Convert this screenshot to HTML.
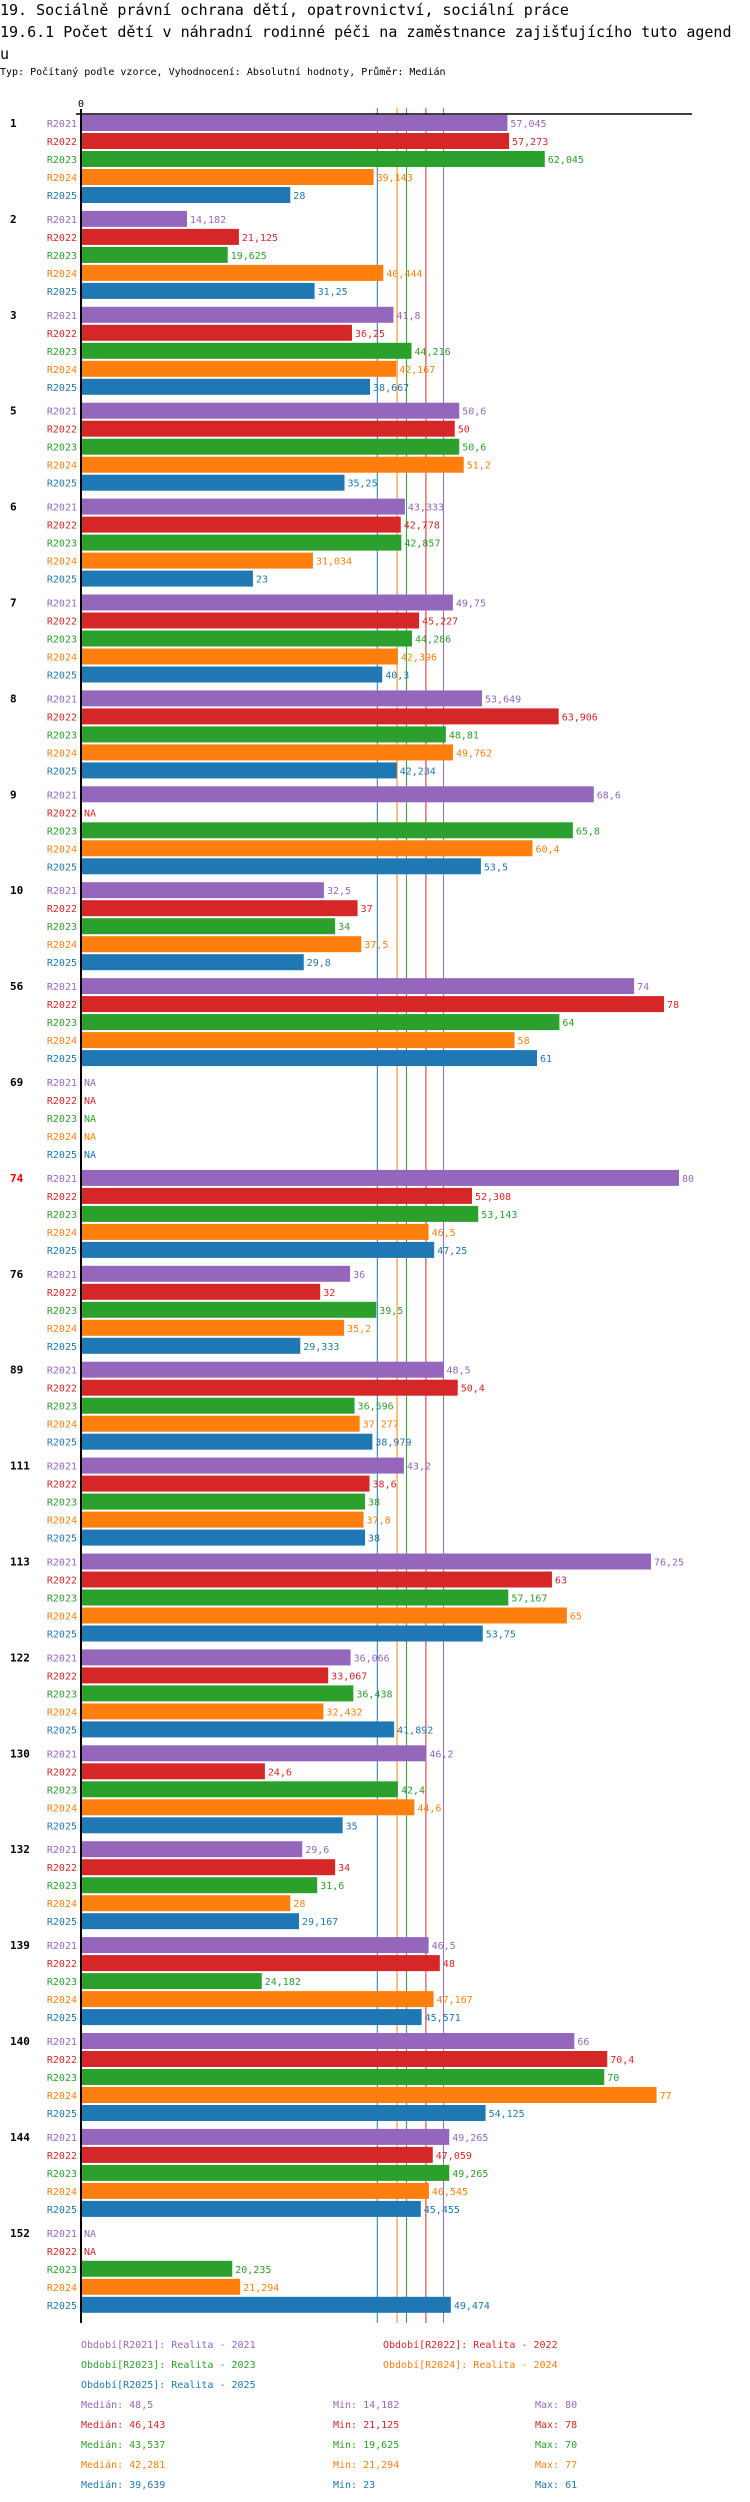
<!DOCTYPE html>
<html><head><meta charset="utf-8"><style>
body{margin:0;background:#fff;width:750px;height:2502px;overflow:hidden}
.t{position:absolute;left:0;font-family:"DejaVu Sans Mono","Liberation Mono",monospace;white-space:nowrap;color:#000}
svg text{font-family:"DejaVu Sans Mono","Liberation Mono",monospace}
</style></head><body>
<div class="t" style="top:-1px;font-size:15px;line-height:22px">19. Sociálně právní ochrana dětí, opatrovnictví, sociální práce</div>
<div class="t" style="top:21px;font-size:15px;line-height:22px">19.6.1 Počet dětí v náhradní rodinné péči na zaměstnance zajišťujícího tuto agend<br>u</div>
<div class="t" style="top:66px;font-size:10px;line-height:14px">Typ: Počítaný podle vzorce, Vyhodnocení: Absolutní hodnoty, Průměr: Medián</div>
<svg id="c" width="750" height="2502" style="position:absolute;left:0;top:0"></svg>
<script>
const groups=["1","2","3","5","6","7","8","9","10","56","69","74","76","89","111","113","122","130","132","139","140","144","152"];
const series=["R2021","R2022","R2023","R2024","R2025"];
const colors=["#9467bd","#d62728","#2ca02c","#ff7f0e","#1f77b4"];
const v2021=[57.045,14.182,41.8,50.6,43.333,49.75,53.649,68.6,32.5,74,null,80,36,48.5,43.2,76.25,36.066,46.2,29.6,46.5,66,49.265,null];
const v2022=[57.273,21.125,36.25,50,42.778,45.227,63.906,null,37,78,null,52.308,32,50.4,38.6,63,33.067,24.6,34,48,70.4,47.059,null];
const v2023=[62.045,19.625,44.216,50.6,42.857,44.286,48.81,65.8,34,64,null,53.143,39.5,36.596,38,57.167,36.438,42.4,31.6,24.182,70,49.265,20.235];
const v2024=[39.143,40.444,42.167,51.2,31.034,42.396,49.762,60.4,37.5,58,null,46.5,35.2,37.277,37.8,65,32.432,44.6,28,47.167,77,46.545,21.294];
const v2025=[28,31.25,38.667,35.25,23,40.3,42.234,53.5,29.8,61,null,47.25,29.333,38.979,38,53.75,41.892,35,29.167,45.571,54.125,45.455,49.474];
const medians=[48.5,46.143,43.537,42.281,39.639];
const mins=[14.182,21.125,19.625,21.294,23];
const maxs=[80,78,70,77,61];
const highlight="74";
const vals=[v2021,v2022,v2023,v2024,v2025];
const X0=81,K=7.475,Y0=115,GS=95.9,BS=18,BH=16;
const x=v=>X0+v*K;
const y=(g,s)=>Y0+g*GS+s*BS;
const fmt=v=>String(v).replace('.',',');
const svg=document.getElementById('c');const NS="http://www.w3.org/2000/svg";
function mk(tag,at,txt){const e=document.createElementNS(NS,tag);for(const k in at)e.setAttribute(k,at[k]);if(txt!==undefined)e.textContent=txt;svg.appendChild(e);return e;}
// median lines
medians.forEach((m,i)=>{
 const l=mk('line',{x1:x(m),x2:x(m),y1:108,y2:2323,stroke:colors[i],'stroke-width':1});
 
 
});
groups.forEach((g,gi)=>{
 const gl=mk('text',{x:10,y:y(gi,0)+12,'font-size':11,'font-weight':'bold',fill:g===highlight?'#f00':'#000'},g);
 
 
 series.forEach((s,si)=>{
  const yy=y(gi,si);const v=vals[si][gi];
  const sl=mk('text',{x:77,y:yy+12,'font-size':10,'text-anchor':'end',fill:colors[si]},s);
  
  
  if(v===null){
   const na=mk('text',{x:84,y:yy+12,'font-size':10,fill:colors[si]},'NA');
   
   
   return;
  }
  const r=mk('rect',{x:X0+1,y:yy,width:x(v)-X0-1,height:BH,fill:colors[si]});
  
  
  const vl=mk('text',{x:x(v)+3,y:yy+12,'font-size':10,fill:colors[si]},fmt(v));
  
  
 });
});
const ax=mk('line',{x1:X0,x2:X0,y1:109,y2:2323,stroke:'#000','stroke-width':2});


const ah=mk('line',{x1:76,x2:692,y1:114,y2:114,stroke:'#000','stroke-width':1.5});


const z=mk('text',{x:X0,y:107,'font-size':10,'text-anchor':'middle',fill:'#000'},'0');


// legend
const legPos=[[81,2348],[383,2348],[81,2368],[383,2368],[81,2388]];
series.forEach((s,i)=>{
 const t=mk('text',{x:legPos[i][0],y:legPos[i][1],'font-size':10,fill:colors[i]},'Období['+s+']: Realita - '+s.slice(1));
 
 
 const yy=2408+i*20;
 const a=mk('text',{x:81,y:yy,'font-size':10,fill:colors[i]},'Medián: '+fmt(medians[i]));
 
 
 const b=mk('text',{x:333,y:yy,'font-size':10,fill:colors[i]},'Min: '+fmt(mins[i]));
 
 
 const c=mk('text',{x:535,y:yy,'font-size':10,fill:colors[i]},'Max: '+fmt(maxs[i]));
 
 
});
</script>
</body></html>
